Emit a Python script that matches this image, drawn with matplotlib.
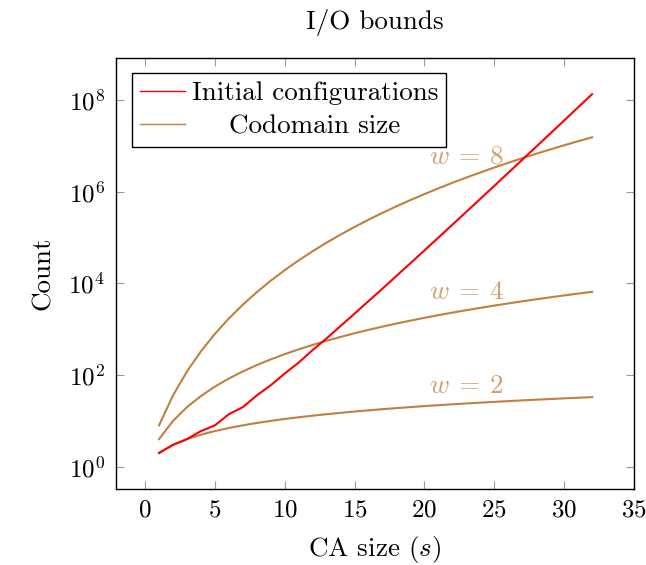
import matplotlib
matplotlib.use("Agg")
import matplotlib.pyplot as plt
from matplotlib.ticker import FixedLocator, LogFormatterMathtext, NullLocator

plt.rcParams["font.family"] = "serif"
plt.rcParams["font.serif"] = ["cmr10"]
plt.rcParams["mathtext.fontset"] = "cm"
plt.rcParams["axes.formatter.use_mathtext"] = True
plt.rcParams["axes.unicode_minus"] = False

# CA size
sizes = list(range(1, 33))

# initial configurations (red)
initial_configs = [2, 3, 4, 6, 8, 14, 20, 36, 60, 108, 188, 352, 632, 1182, 2192,
                   4116, 7712, 14602, 27596, 52488, 99880, 190746, 364724, 699252,
                   1342184, 2581428, 4971068, 9587580, 18512792, 35792568,
                   69273668, 134219796]

# codomain size for each w
codomain_w2 = [2, 3, 4, 5, 6, 7, 8, 9, 10, 11, 12, 13, 14, 15, 16, 17, 18, 19, 20,
               21, 22, 23, 24, 25, 26, 27, 28, 29, 30, 31, 32, 33]
codomain_w4 = [4, 10, 20, 35, 56, 84, 120, 165, 220, 286, 364, 455, 560, 680, 816,
               969, 1140, 1330, 1540, 1771, 2024, 2300, 2600, 2925, 3276, 3654,
               4060, 4495, 4960, 5456, 5984, 6545]
codomain_w8 = [8, 36, 120, 330, 792, 1716, 3432, 6435, 11440, 19448, 31824, 50388,
               77520, 116280, 170544, 245157, 346104, 480700, 657800, 888030,
               1184040, 1560780, 2035800, 2629575, 3365856, 4272048, 5379616,
               6724520, 8347680, 10295472, 12620256, 15380937]

w_labels = [r"$w\:=\:2$", r"$w\:=\:4$", r"$w\:=\:8$"]
label_pos = [(23.0, 58), (23.0, 6.5e3), (23.0, 5.7e6)]

brown = "#bf8040"
light_brown = "#d0a070"
fs = 19.5

fig = plt.figure(figsize=(6.46, 5.65), dpi=100)
ax = fig.add_axes([0.1796, 0.135, 0.8018, 0.7618])

ax.plot(sizes, initial_configs, color="red", lw=1.5, label="Initial configurations", zorder=3)
ax.plot(sizes, codomain_w2, color=brown, lw=1.5, label="Codomain size")
ax.plot(sizes, codomain_w4, color=brown, lw=1.5)
ax.plot(sizes, codomain_w8, color=brown, lw=1.5)

for txt, (x, y) in zip(w_labels, label_pos):
    ax.text(x, y, txt, color=light_brown, fontsize=fs, ha="center", va="center")

ax.set_yscale("log")
ax.set_xlim(-2.08, 35)
ax.set_ylim(10 ** -0.48, 10 ** 8.91)
ax.set_xticks([0, 5, 10, 15, 20, 25, 30, 35])
ax.yaxis.set_major_locator(FixedLocator([1, 1e2, 1e4, 1e6, 1e8]))
ax.yaxis.set_major_formatter(LogFormatterMathtext())
ax.yaxis.set_minor_locator(NullLocator())

ax.tick_params(which="both", direction="in", top=True, right=True, length=6,
               color="#999999", labelsize=18, pad=8)
for sp in ax.spines.values():
    sp.set_linewidth(1.0)

ax.set_xlabel("CA size ($s$)", fontsize=fs, labelpad=9)
ax.set_ylabel("Count", fontsize=fs, labelpad=10)
ax.set_title("I/O bounds", fontsize=fs, pad=21)

leg = ax.legend(loc="upper left", bbox_to_anchor=(0.031, 0.966), fontsize=fs,
                frameon=True, fancybox=False, framealpha=1, edgecolor="black",
                handlelength=1.66, handletextpad=0.25, borderpad=0.3,
                labelspacing=0.35, borderaxespad=0)
leg.get_frame().set_linewidth(1.0)
for ln in leg.get_lines():
    ln.set_linewidth(1.0)
# pgfplots centres legend text; shift the shorter one
texts = leg.get_texts()
fig.canvas.draw()
r = fig.canvas.get_renderer()
w0 = texts[0].get_window_extent(r).width
w1 = texts[1].get_window_extent(r).width
texts[1].set_position(((w0 - w1) / 2, 0))

fig.savefig("out.png", dpi=100)
